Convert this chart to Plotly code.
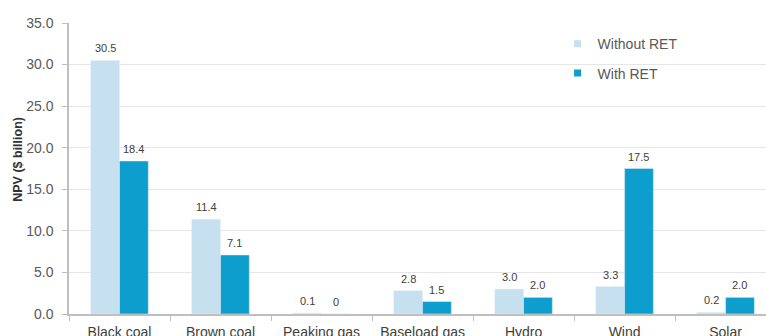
import plotly.graph_objects as go

# Net present value of generation assets, with and without the RET
categories = ["Black coal", "Brown coal", "Peaking gas", "Baseload gas", "Hydro", "Wind", "Solar"]
without_ret = [30.5, 11.4, 0.1, 2.8, 3.0, 3.3, 0.2]
with_ret = [18.4, 7.1, 0.0, 1.5, 2.0, 17.5, 2.0]
y_ticks = [0, 5, 10, 15, 20, 25, 30, 35]

LIGHT = "#C6E0EF"
DARK = "#0E9ECD"
FONT = "Liberation Sans, Arial, sans-serif"


def label(v):
    return "0" if v == 0 else f"{v:.1f}"


fig = go.Figure()
fig.add_trace(go.Bar(x=categories, y=without_ret, name="Without RET",
                     marker_color=LIGHT, showlegend=False))
fig.add_trace(go.Bar(x=categories, y=with_ret, name="With RET",
                     marker_color=DARK, showlegend=False))

# compact square legend swatches
for name, col, grp in [("Without RET", LIGHT, "a"), ("With RET", DARK, "b")]:
    fig.add_trace(go.Scatter(x=[None], y=[None], mode="markers", name=name,
                             legendgroup=grp,
                             marker=dict(symbol="square", size=7, color=col)))

# value labels above each bar
half = 0.1425 * 101  # half a bar slot, in px
for series, shift in [(without_ret, -half), (with_ret, half)]:
    for c, v in zip(categories, series):
        fig.add_annotation(x=c, y=v, text=label(v), showarrow=False,
                           xshift=shift, yanchor="bottom", yshift=4,
                           font=dict(size=11, color="#404040", family=FONT))

# vertical axis title
fig.add_annotation(text="<b>NPV ($ billion)</b>", textangle=-90,
                   xref="paper", yref="paper", x=0, y=0.53, xshift=-51,
                   showarrow=False, xanchor="center", yanchor="middle",
                   font=dict(size=12.5, color="#333333", family=FONT))

fig.update_layout(
    width=766, height=336,
    margin=dict(l=69, r=0, t=23, b=22, autoexpand=False),
    paper_bgcolor="white", plot_bgcolor="white",
    barmode="group", bargap=0.43, bargroupgap=0,
    font=dict(family=FONT, size=14, color="#595959"),
    legend=dict(x=0.701, y=0.982, xanchor="left", yanchor="top",
                bgcolor="rgba(0,0,0,0)", font=dict(size=14, color="#595959"),
                traceorder="grouped", tracegroupgap=8),
    xaxis=dict(range=[-0.5, 6.4], showline=True, linecolor="#BFBFBF", linewidth=2,
               ticks="outside", tickson="boundaries", ticklen=5, tickcolor="#BFBFBF",
               showgrid=False, ticklabelstandoff=4, automargin=False,
               tickfont=dict(size=14, color="#404040")),
    yaxis=dict(range=[0, 35], tickvals=y_ticks, tickformat=".1f",
               showline=True, linecolor="#BFBFBF", linewidth=1.5,
               ticks="outside", ticklen=5, tickcolor="#BFBFBF",
               gridcolor="#E6E6E6", gridwidth=1, zeroline=False, automargin=False,
               ticklabelstandoff=6, tickfont=dict(size=14, color="#595959")),
)

fig.write_html("out.html")
